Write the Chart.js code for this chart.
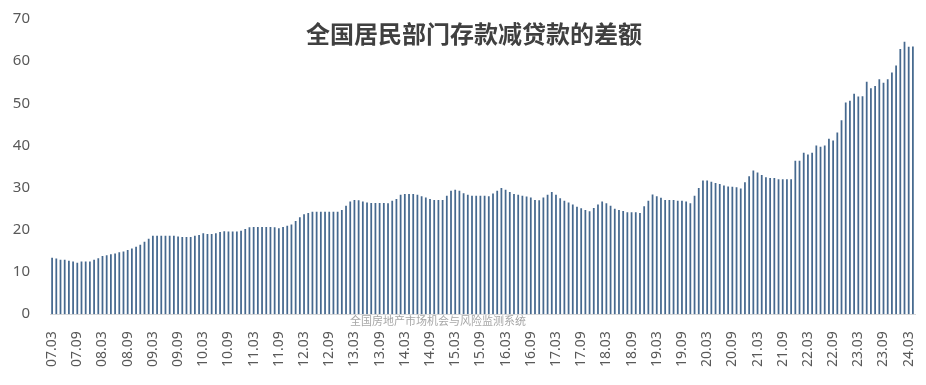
<!DOCTYPE html>
<html>
<head>
<meta charset="utf-8">
<script src="https://cdn.jsdelivr.net/npm/chart.js@4/dist/chart.umd.min.js"></script>
<style>
  html, body { margin: 0; padding: 0; background: #ffffff; }
  #wrap { width: 926px; height: 385px; position: relative; }
</style>
</head>
<body>
<div id="wrap"><canvas id="c" width="926" height="385"></canvas></div>
<script>
// ---- Data, unit: 万亿元 ----
const categories = [
  '07.03','07.04','07.05','07.06','07.07','07.08','07.09','07.10','07.11','07.12',
  '08.01','08.02','08.03','08.04','08.05','08.06','08.07','08.08','08.09','08.10','08.11','08.12',
  '09.01','09.02','09.03','09.04','09.05','09.06','09.07','09.08','09.09','09.10','09.11','09.12',
  '10.01','10.02','10.03','10.04','10.05','10.06','10.07','10.08','10.09','10.10','10.11','10.12',
  '11.01','11.02','11.03','11.04','11.05','11.06','11.07','11.08','11.09','11.10','11.11','11.12',
  '12.01','12.02','12.03','12.04','12.05','12.06','12.07','12.08','12.09','12.10','12.11','12.12',
  '13.01','13.02','13.03','13.04','13.05','13.06','13.07','13.08','13.09','13.10','13.11','13.12',
  '14.01','14.02','14.03','14.04','14.05','14.06','14.07','14.08','14.09','14.10','14.11','14.12',
  '15.01','15.02','15.03','15.04','15.05','15.06','15.07','15.08','15.09','15.10','15.11','15.12',
  '16.01','16.02','16.03','16.04','16.05','16.06','16.07','16.08','16.09','16.10','16.11','16.12',
  '17.01','17.02','17.03','17.04','17.05','17.06','17.07','17.08','17.09','17.10','17.11','17.12',
  '18.01','18.02','18.03','18.04','18.05','18.06','18.07','18.08','18.09','18.10','18.11','18.12',
  '19.01','19.02','19.03','19.04','19.05','19.06','19.07','19.08','19.09','19.10','19.11','19.12',
  '20.01','20.02','20.03','20.04','20.05','20.06','20.07','20.08','20.09','20.10','20.11','20.12',
  '21.01','21.02','21.03','21.04','21.05','21.06','21.07','21.08','21.09','21.10','21.11','21.12',
  '22.01','22.02','22.03','22.04','22.05','22.06','22.07','22.08','22.09','22.10','22.11','22.12',
  '23.01','23.02','23.03','23.04','23.05','23.06','23.07','23.08','23.09','23.10','23.11','23.12',
  '24.01','24.02','24.03','24.04'
];

const v2007 = [13.4,13.2,12.9,12.9,12.7,12.5,12.2,12.5,12.5,12.5];
const v2008 = [12.9,13.3,13.8,14.0,14.2,14.4,14.7,14.9,15.2,15.6,16.0,16.5];
const v2009 = [17.2,17.9,18.6,18.6,18.6,18.6,18.6,18.6,18.4,18.3,18.3,18.3];
const v2010 = [18.6,18.8,19.2,19.0,19.0,19.2,19.5,19.7,19.6,19.6,19.6,19.8];
const v2011 = [20.2,20.6,20.7,20.7,20.7,20.7,20.7,20.6,20.4,20.7,21.0,21.3];
const v2012 = [22.1,23.0,23.7,24.0,24.3,24.3,24.3,24.3,24.3,24.3,24.3,24.7];
const v2013 = [25.7,26.7,27.1,27.0,26.7,26.5,26.4,26.4,26.4,26.4,26.3,26.9];
const v2014 = [27.3,28.3,28.5,28.5,28.5,28.3,28.0,27.7,27.3,27.1,27.1,27.1];
const v2015 = [28.1,29.3,29.5,29.3,28.7,28.3,28.1,28.1,28.1,28.1,28.0,28.6];
const v2016 = [29.3,29.9,29.5,29.0,28.5,28.3,28.1,27.9,27.7,27.1,27.0,27.7];
const v2017 = [28.3,29.0,28.3,27.5,26.9,26.5,26.0,25.5,25.1,24.7,24.4,25.2];
const v2018 = [26.0,26.7,26.3,25.7,25.0,24.7,24.5,24.2,24.2,24.2,24.0,25.6];
const v2019 = [26.9,28.4,28.0,27.6,27.1,27.1,27.1,26.9,26.9,26.7,26.3,28.1];
const v2020 = [29.9,31.7,31.7,31.4,31.1,30.9,30.5,30.3,30.2,30.1,29.8,31.3];
const v2021 = [32.7,34.1,33.6,33.0,32.5,32.3,32.3,32.0,32.0,32.0,32.0,36.4];
const v2022 = [36.4,38.3,37.9,38.3,40.0,39.7,40.0,41.6,41.2,43.1,46.0,50.2];
const v2023 = [50.6,52.3,51.6,51.7,55.1,53.6,54.1,55.7,54.9,55.7,57.3,59.0];
const v2024 = [62.9,64.6,63.4,63.5];

const values = [].concat(v2007, v2008, v2009, v2010, v2011, v2012, v2013, v2014,
  v2015, v2016, v2017, v2018, v2019, v2020, v2021, v2022, v2023, v2024);

const tickLabels = [
  '07.03','07.09','08.03','08.09','09.03','09.09','10.03','10.09','11.03','11.09',
  '12.03','12.09','13.03','13.09','14.03','14.09','15.03','15.09','16.03','16.09',
  '17.03','17.09','18.03','18.09','19.03','19.09','20.03','20.09','21.03','21.09',
  '22.03','22.09','23.03','23.09','24.03'
];
const yTicks = [0,10,20,30,40,50,60,70];

const titleText = '全国居民部门存款减贷款的差额';
const watermarkText = '全国房地产市场机会与风险监测系统';

// ---- Plugins for in-plot title and watermark ----
const overlayText = {
  id: 'overlayText',
  afterDraw(chart) {
    const ctx = chart.ctx;
    ctx.save();
    ctx.textAlign = 'center';
    ctx.textBaseline = 'middle';
    ctx.fillStyle = '#404040';
    ctx.font = "bold 24px 'Noto Sans CJK SC', 'Noto Sans', sans-serif";
    ctx.fillText(titleText, 474, 34);
    ctx.fillStyle = 'rgba(150,150,150,0.85)';
    ctx.font = "11px 'Noto Sans CJK SC', 'Noto Sans', sans-serif";
    ctx.fillText(watermarkText, 438, 321);
    ctx.restore();
  }
};

new Chart(document.getElementById('c'), {
  type: 'bar',
  data: {
    labels: categories,
    datasets: [{
      data: values,
      backgroundColor: '#46698f',
      borderWidth: 0,
      barPercentage: 0.42,
      categoryPercentage: 1.0
    }]
  },
  options: {
    responsive: false,
    devicePixelRatio: 1,
    animation: false,
    layout: { padding: { top: 19, right: 11, bottom: 1, left: 0 } },
    plugins: {
      legend: { display: false },
      title: { display: false },
      tooltip: { enabled: false }
    },
    scales: {
      x: {
        offset: true,
        afterFit: function (scale) { scale.paddingRight = 0; scale.paddingLeft = 0; },
        grid: { display: false, drawTicks: false },
        border: { display: true, color: '#d9d9d9', width: 1 },
        ticks: {
          autoSkip: false,
          minRotation: 90,
          maxRotation: 90,
          padding: 17,
          color: '#595959',
          font: { family: "'Noto Sans', sans-serif", size: 14 },
          callback: function (val, idx) {
            const lab = categories[idx];
            return tickLabels.includes(lab) ? lab : '';
          }
        }
      },
      y: {
        min: 0,
        max: 70,
        afterFit: function (scale) {
          scale.width = 50;
          scale.paddingTop = 0;
          scale.paddingBottom = 0;
        },
        afterBuildTicks: function (scale) { scale.ticks = yTicks.map(v => ({ value: v })); },
        grid: { display: false, drawTicks: false },
        border: { display: false },
        ticks: {
          padding: 20,
          color: '#595959',
          font: { family: "'Noto Sans', sans-serif", size: 15 }
        }
      }
    }
  },
  plugins: [overlayText]
});
</script>
</body>
</html>
